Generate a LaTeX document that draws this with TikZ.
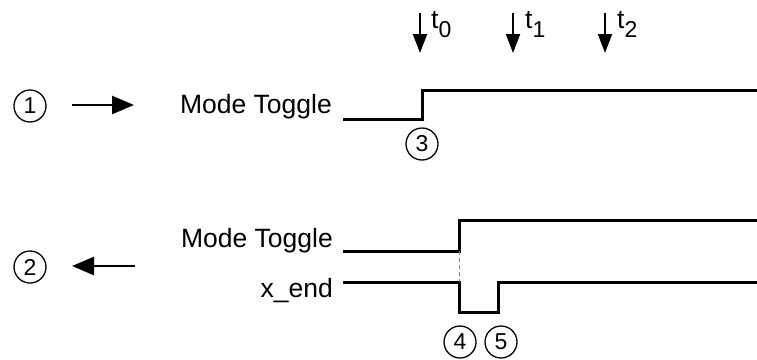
\documentclass[tikz,border=0pt]{standalone}
\usepackage{fontspec}
\setmainfont{Liberation Sans}
\usetikzlibrary{arrows.meta}
\tikzset{
  lbl/.style={inner sep=0pt, font=\fontsize{26.5}{31}\selectfont},
  num/.style={circle, draw, line width=1.3pt, minimum size=32pt, inner sep=0pt, font=\fontsize{23}{26}\selectfont},
  sig/.style={line width=3pt, line join=miter},
  bigarrow/.style={line width=2.6pt, -{Triangle[length=22pt,width=18pt]}},
  tarrow/.style={line width=2pt, -{Triangle[length=19pt,width=14pt]}},
  guide/.style={gray, line width=0.6pt, dash pattern=on 4pt off 3pt},
}
\newcommand{\tlab}[1]{t\raisebox{-9pt}{\fontsize{23}{26}\selectfont #1}}
\begin{document}
\begin{tikzpicture}[x=1pt,y=-1pt]
\useasboundingbox (0,0) rectangle (757,359);
% time markers
\coordinate (a0s) at (420,13); \coordinate (a0e) at (420,53);
\coordinate (a1s) at (513,13); \coordinate (a1e) at (513,53);
\coordinate (a2s) at (605,13); \coordinate (a2e) at (605,53);
\draw[tarrow] (a0s) -- (a0e);
\draw[tarrow] (a1s) -- (a1e);
\draw[tarrow] (a2s) -- (a2e);
\node[lbl, anchor=base west] (t0) at (431,28) {\tlab{0}};
\node[lbl, anchor=base west] (t1) at (525,28) {\tlab{1}};
\node[lbl, anchor=base west] (t2) at (617,28) {\tlab{2}};
% row 1
\node[num] (n1) at (30,106) {1};
\coordinate (r1s) at (72,105); \coordinate (r1e) at (134,105);
\draw[bigarrow] (r1s) -- (r1e);
\node[lbl, anchor=base east] (mt1) at (332,113) {Mode Toggle};
\coordinate (s1a) at (343,119); \coordinate (s1b) at (422,119);
\coordinate (s1c) at (422,90); \coordinate (s1d) at (757,90);
\draw[sig] (s1a) -- (s1b) -- (s1c) -- (s1d);
\node[num] (n3) at (422,144) {3};
% row 2
\node[num] (n2) at (30,267) {2};
\coordinate (r2s) at (135,266); \coordinate (r2e) at (72,266);
\draw[bigarrow] (r2s) -- (r2e);
\node[lbl, anchor=base east] (mt2) at (333,247) {Mode Toggle};
\node[lbl, anchor=base east] (xe) at (333,297) {x\_end};
\coordinate (s2a) at (343,251); \coordinate (s2b) at (459,251);
\coordinate (s2c) at (459,220); \coordinate (s2d) at (757,220);
\draw[sig] (s2a) -- (s2b) -- (s2c) -- (s2d);
\coordinate (s3a) at (343,282); \coordinate (s3b) at (459,282);
\coordinate (s3c) at (459,312); \coordinate (s3d) at (498,312);
\coordinate (s3e) at (498,282); \coordinate (s3f) at (757,282);
\draw[sig] (s3a) -- (s3b) -- (s3c) -- (s3d) -- (s3e) -- (s3f);
\draw[guide] (s2b) -- (s3b);
\node[num] (n4) at (460,342) {4};
\node[num] (n5) at (501,342) {5};
\end{tikzpicture}
\end{document}
